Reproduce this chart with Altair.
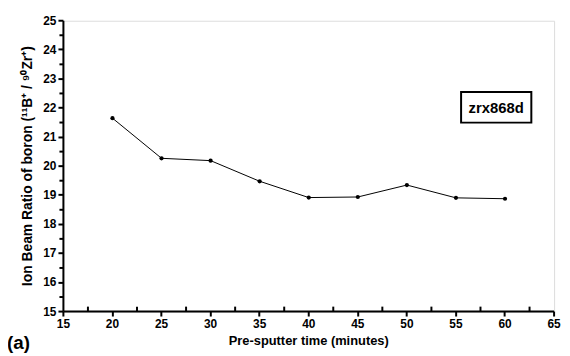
import altair as alt
import pandas as pd

time_min = [20, 25, 30, 35, 40, 45, 50, 55, 60]
ratio = [21.65, 20.27, 20.19, 19.48, 18.92, 18.94, 19.35, 18.91, 18.88]

x_major = [15, 20, 25, 30, 35, 40, 45, 50, 55, 60, 65]
x_minor = [17.5, 22.5, 27.5, 32.5, 37.5, 42.5, 47.5, 52.5, 57.5, 62.5]
y_major = [15, 16, 17, 18, 19, 20, 21, 22, 23, 24, 25]
y_minor = [15.5, 16.5, 17.5, 18.5, 19.5, 20.5, 21.5, 22.5, 23.5, 24.5]

sample_label = ["zrx868d"]
panel_label = ["(a)"]

FONT = "Liberation Sans"

df = pd.DataFrame({"t": time_min, "r": ratio})
xs = alt.Scale(domain=[15, 65], nice=False, zero=False)
ys = alt.Scale(domain=[15, 25], nice=False, zero=False)

x_axis = alt.Axis(values=x_major, title="Pre-sputter time (minutes)", grid=False,
                  tickSize=5, tickWidth=2, domainWidth=2, domainColor="black",
                  tickColor="black", labelFont=FONT, labelFontWeight="bold",
                  labelFontSize=12, labelColor="black", titleFont=FONT,
                  titleFontWeight="bold", titleFontSize=13, titleColor="black",
                  labelPadding=3, titlePadding=5, labelOverlap=False,
                  labelFlush=False, translate=0, domainOpacity=1, tickOpacity=1)
y_axis = alt.Axis(values=y_major, title="Ion Beam Ratio of boron (¹¹B⁺ / ⁹⁰Zr⁺)",
                  grid=False, tickSize=5, tickWidth=2, domainWidth=2,
                  domainColor="black", tickColor="black", labelFont=FONT,
                  labelFontWeight="bold", labelFontSize=12, labelColor="black",
                  titleFont=FONT, titleFontWeight="bold", titleFontSize=14,
                  titleColor="black", labelPadding=2, titlePadding=8,
                  labelOverlap=False, labelFlush=False, translate=0,
                  domainOpacity=1, tickOpacity=1)

line = alt.Chart(df).mark_line(color="black", strokeWidth=1)
pts = alt.Chart(df).mark_circle(color="black", opacity=1, size=18)

xmin_df = pd.DataFrame({"t": x_minor, "r": [15] * len(x_minor)})
xminor = alt.Chart(xmin_df).mark_tick(color="black", orient="vertical", size=5,
                                      thickness=2, yOffset=-2.5, opacity=1)
ymin_df = pd.DataFrame({"t": [15] * len(y_minor), "r": y_minor})
yminor = alt.Chart(ymin_df).mark_tick(color="black", orient="horizontal", size=4,
                                      thickness=2, xOffset=-2, opacity=1)

data_layers = alt.layer(line, pts, xminor, yminor).encode(
    x=alt.X("t:Q", scale=xs, axis=x_axis),
    y=alt.Y("r:Q", scale=ys, axis=y_axis),
)

box = alt.Chart(pd.DataFrame({"lab": sample_label})).mark_rect(
    fill="white", stroke="black", strokeWidth=2).encode(
    x=alt.value(402), x2=alt.value(473), y=alt.value(72), y2=alt.value(103)
)
boxtext = alt.Chart(pd.DataFrame({"lab": sample_label})).mark_text(
    font=FONT, fontWeight="bold", fontSize=15, color="black",
    align="center", baseline="middle").encode(
    text="lab:N", x=alt.value(437.5), y=alt.value(88)
)
ptext = alt.Chart(pd.DataFrame({"lab": panel_label})).mark_text(
    font=FONT, fontWeight="bold", fontSize=19, color="black",
    align="left", baseline="alphabetic").encode(
    text="lab:N", x=alt.value(-57), y=alt.value(332)
)

chart = alt.layer(data_layers, box, boxtext, ptext).properties(
    width=496, height=294,
    padding={"left": 56, "top": 11, "right": 8, "bottom": 40},
    autosize=alt.AutoSizeParams(type="none"),
).configure_view(stroke=None).configure(background="white")

chart.save("out.html", embed_options={"renderer": "svg", "actions": False})
